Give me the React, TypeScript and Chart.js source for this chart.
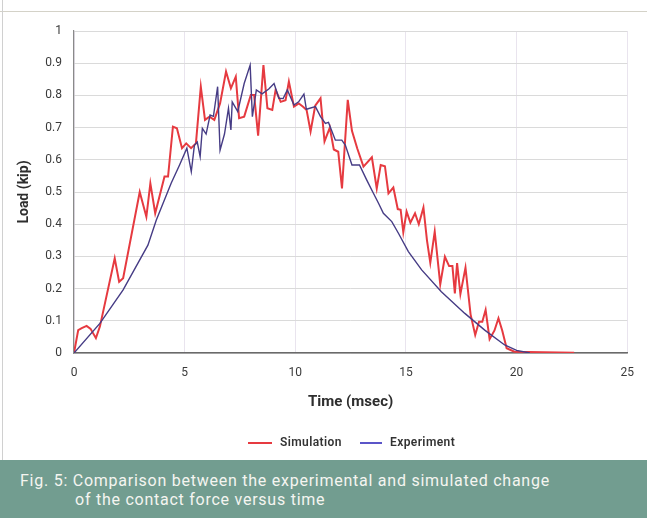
import React, { useEffect, useRef } from "react";
import { Chart, registerables } from "chart.js";

Chart.register(...registerables);

// Simulation (time in msec, load in kip)
const simTimes = [
  0, 0.19, 0.35, 0.57, 0.75, 0.99, 1.17, 1.84, 2.04, 2.22, 2.97, 3.27, 3.45, 3.67, 4.09, 4.25,
  4.47, 4.65, 4.88, 5.07, 5.29, 5.51, 5.73, 5.92, 6.12, 6.34, 6.6, 6.87, 7.09, 7.31, 7.46, 7.69,
  7.99, 8.14, 8.32, 8.56, 8.74, 8.96, 9.11, 9.34, 9.56, 9.71, 9.94, 10.16, 10.35, 10.51, 10.69,
  10.9, 11.14, 11.32, 11.56, 11.74, 11.94, 12.11, 12.37, 12.56, 12.8, 13.08, 13.46, 13.68, 13.86,
  14.05, 14.21, 14.43, 14.63, 14.76, 14.88, 15.03, 15.2, 15.41, 15.58, 15.79, 15.95, 16.1, 16.3,
  16.55, 16.76, 16.95, 17.1, 17.21, 17.31, 17.46, 17.69, 17.92, 18.13, 18.3, 18.45, 18.6, 18.78,
  19.0, 19.18, 19.35, 19.55, 19.9, 20.5, 21.2, 22.6,
];
const simLoads = [
  0, 0.071, 0.077, 0.084, 0.075, 0.046, 0.082, 0.294, 0.221, 0.232, 0.5, 0.423, 0.527, 0.434, 0.548, 0.548,
  0.703, 0.698, 0.636, 0.651, 0.636, 0.651, 0.827, 0.724, 0.734, 0.724, 0.775, 0.874, 0.822, 0.858, 0.729, 0.734,
  0.801, 0.801, 0.675, 0.894, 0.76, 0.755, 0.817, 0.78, 0.785, 0.843, 0.765, 0.775, 0.765, 0.755, 0.688,
  0.768, 0.791, 0.657, 0.7, 0.632, 0.625, 0.511, 0.786, 0.69, 0.635, 0.579, 0.608, 0.511, 0.584,
  0.58, 0.496, 0.514, 0.447, 0.445, 0.375, 0.439, 0.405, 0.434, 0.4, 0.452, 0.35, 0.28, 0.377,
  0.213, 0.299, 0.27, 0.27, 0.185, 0.279, 0.183, 0.265, 0.12, 0.056, 0.097, 0.097, 0.134, 0.043,
  0.07, 0.108, 0.07, 0.015, 0.004, 0.003, 0.002, 0.001,
];

// Experiment
const expTimes = [
  0, 1.17, 2.22, 3.34, 3.72, 4.39, 4.77, 5.1, 5.3, 5.44, 5.57, 5.7, 5.8, 5.97, 6.15, 6.3, 6.49,
  6.6, 6.8, 6.98, 7.09, 7.15, 7.4, 7.69, 7.96, 8.06, 8.24, 8.5, 8.8, 9.04, 9.26, 9.45, 9.64, 9.94,
  10.15, 10.39, 10.5, 10.91, 11.14, 11.36, 11.5, 11.81, 12.1, 12.26, 12.56, 12.9, 13.23, 13.5,
  13.76, 13.98, 14.36, 14.66, 15.11, 15.71, 16.6, 17.66, 18.56, 19.46, 20.0, 20.6,
];
const expLoads = [
  0, 0.092, 0.196, 0.335, 0.413, 0.527, 0.584, 0.636, 0.563, 0.645, 0.655, 0.61, 0.698, 0.68, 0.739, 0.735, 0.827,
  0.63, 0.68, 0.76, 0.693, 0.78, 0.75, 0.837, 0.894, 0.734, 0.817, 0.805, 0.82, 0.837, 0.791, 0.79, 0.817, 0.77,
  0.78, 0.804, 0.757, 0.765, 0.734, 0.713, 0.716, 0.661, 0.661, 0.646, 0.584, 0.584, 0.537, 0.5,
  0.465, 0.434, 0.408, 0.372, 0.315, 0.258, 0.19, 0.123, 0.071, 0.025, 0.008, 0,
];

const xTicks = [0, 5, 10, 15, 20, 25];
const yTicks = [0, 0.1, 0.2, 0.3, 0.4, 0.5, 0.6, 0.7, 0.8, 0.9, 1];
const yTickLabels = ["0", "0.1", "0.2", "0.3", "0.4", "0.5", "0.6", "0.7", "0.8", "0.9", "1"];
const seriesNames = ["Simulation", "Experiment"];
const captionLines = [
  "Fig. 5: Comparison between the experimental and simulated change",
  "of the contact force versus time",
];

const FONT = "Roboto, 'DejaVu Sans', sans-serif";

export default function App() {
  const ref = useRef<HTMLCanvasElement>(null);

  useEffect(() => {
    const legendPlugin = {
      id: "customLegend",
      afterDraw(chart: any) {
        const ctx = chart.ctx;
        const y = 443;
        const items = [
          { lineStart: 248, lineEnd: 272, textX: 280 },
          { lineStart: 360, lineEnd: 382, textX: 390 },
        ];
        ctx.save();
        chart.data.datasets.forEach((ds: any, i: number) => {
          const it = items[i];
          ctx.strokeStyle = ds.legendColor || ds.borderColor;
          ctx.lineWidth = 2;
          ctx.beginPath();
          ctx.moveTo(it.lineStart, y);
          ctx.lineTo(it.lineEnd, y);
          ctx.stroke();
          ctx.fillStyle = "#333";
          ctx.font = `600 12px ${FONT}`;
          try {
            (ctx as any).letterSpacing = "0.4px";
          } catch (e) {}
          ctx.textBaseline = "middle";
          ctx.textAlign = "left";
          ctx.fillText(ds.label, it.textX, y);
        });
        ctx.restore();
      },
    };

    const chart = new Chart(ref.current!, {
      type: "scatter",
      data: {
        datasets: [
          {
            label: seriesNames[0],
            data: simTimes.map((t, i) => ({ x: t, y: simLoads[i] })),
            showLine: true,
            borderColor: "#e63a40",
            backgroundColor: "#e63a40",
            borderWidth: 2,
            pointRadius: 0,
            tension: 0,
            order: 1,
          } as any,
          {
            label: seriesNames[1],
            data: expTimes.map((t, i) => ({ x: t, y: expLoads[i] })),
            showLine: true,
            borderColor: "#463c85",
            legendColor: "#5b55c8",
            backgroundColor: "#463c85",
            borderWidth: 1.4,
            pointRadius: 0,
            tension: 0,
            order: 0,
          } as any,
        ],
      },
      options: {
        animation: false,
        responsive: false,
        maintainAspectRatio: false,
        events: [],
        layout: { padding: { left: 0, right: 17, top: 31, bottom: 47 } },
        plugins: { legend: { display: false }, tooltip: { enabled: false } },
        scales: {
          x: {
            type: "linear",
            min: 0,
            max: 25,
            afterBuildTicks: (s: any) => {
              s.ticks = xTicks.map((v) => ({ value: v }));
            },
            afterFit: (s: any) => {
              s.height = 60;
            },
            ticks: {
              padding: 13,
              color: "#3a3a3a",
              font: { family: FONT, size: 12 },
              maxRotation: 0,
              callback: (v: any) => String(v),
            },
            grid: { color: "#e9e4ee", lineWidth: 1, drawTicks: false },
            border: { color: "#6a6a6a", width: 1.5 },
            title: {
              display: true,
              text: "Time (msec)",
              color: "#2e2e2e",
              font: { family: FONT, size: 15, weight: "bold" },
              padding: { top: 0, bottom: 2 },
            },
          },
          y: {
            type: "linear",
            min: 0,
            max: 1,
            afterBuildTicks: (s: any) => {
              s.ticks = yTicks.map((v) => ({ value: v }));
            },
            afterFit: (s: any) => {
              s.width = 74;
            },
            ticks: {
              padding: 12,
              color: "#3a3a3a",
              font: { family: FONT, size: 12 },
              callback: (v: any) => {
                const idx = yTicks.findIndex((t) => Math.abs(t - v) < 1e-9);
                return idx >= 0 ? yTickLabels[idx] : "";
              },
            },
            grid: { color: "#dadada", lineWidth: 1, drawTicks: false },
            border: { color: "#8a8a8a", width: 1.2 },
            title: {
              display: true,
              text: "Load (kip)",
              color: "#2e2e2e",
              font: { family: FONT, size: 14, weight: "bold" },
              padding: { top: 16, bottom: 0 },
            },
          },
        },
      },
      plugins: [legendPlugin],
    });
    return () => chart.destroy();
  }, []);

  return (
    <div
      style={{
        position: "fixed",
        left: 0,
        top: 0,
        width: 647,
        height: 518,
        background: "#ffffff",
        overflow: "hidden",
      }}
    >
      <div style={{ position: "absolute", left: 0, top: 11, width: 647, height: 1, background: "#d4d2c8" }} />
      <div style={{ position: "absolute", left: 2, top: 0, width: 1, height: 460, background: "#d0d0d0" }} />
      <canvas ref={ref} width={647} height={460} style={{ position: "absolute", left: 0, top: 0, width: 647, height: 460 }} />
      <div
        style={{
          position: "absolute",
          left: 0,
          top: 460,
          width: 647,
          height: 58,
          background: "#729d90",
          fontFamily: FONT,
          color: "#f5f5f0",
          fontSize: 16,
          letterSpacing: 0.75,
        }}
      >
        <div style={{ position: "absolute", left: 20, top: 11, whiteSpace: "nowrap", lineHeight: "20px" }}>
          {captionLines[0]}
        </div>
        <div style={{ position: "absolute", left: 75, top: 30, whiteSpace: "nowrap", lineHeight: "20px" }}>
          {captionLines[1]}
        </div>
      </div>
    </div>
  );
}
